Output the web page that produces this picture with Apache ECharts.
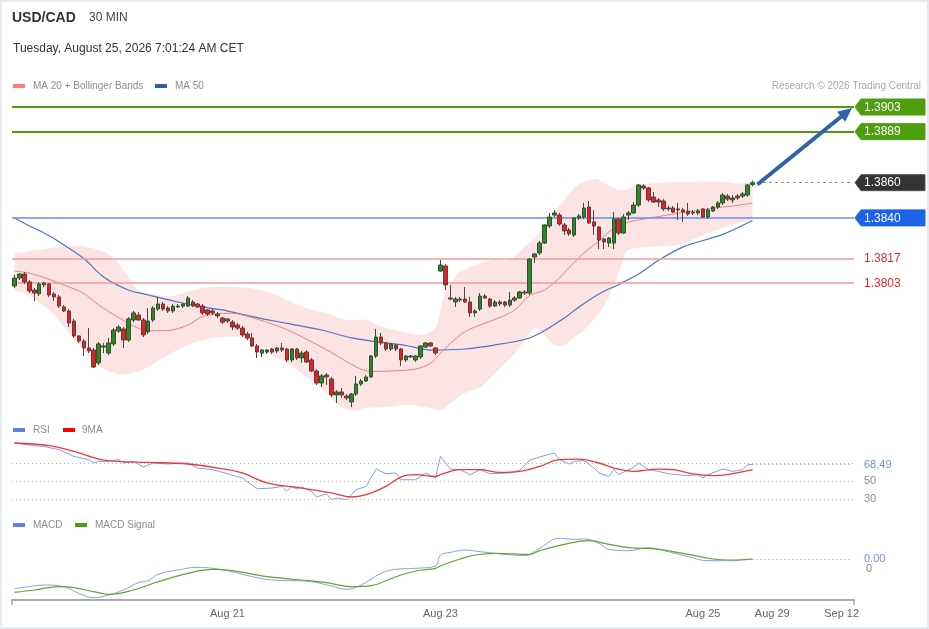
<!DOCTYPE html>
<html>
<head>
<meta charset="utf-8">
<script src="https://cdn.jsdelivr.net/npm/echarts/dist/echarts.min.js"></script>
<style>
html,body{margin:0;padding:0;background:#fff;}
#c{width:929px;height:629px;}
</style>
</head>
<body>
<div id="c"></div>
<script>
// ---------- DATA ----------
const slotCount = 170;
const tickIndex = [43, 86, 139, 153, 167];
const tickText = ['Aug 21', 'Aug 23', 'Aug 25', 'Aug 29', 'Sep 12'];

// candles: [open, close, low, high]
const candles = [
[1.38013,1.38058,1.38002,1.38076],[1.38058,1.38081,1.38047,1.38087],[1.38081,1.38036,1.38024,1.38093],[1.38036,1.37985,1.37973,1.38047],
[1.37990,1.37973,1.37928,1.38002],[1.37968,1.38024,1.37956,1.38036],[1.38030,1.38019,1.38007,1.38036],[1.38024,1.37962,1.37951,1.38030],
[1.37968,1.37951,1.37928,1.37979],[1.37951,1.37899,1.37888,1.37962],[1.37894,1.37871,1.37865,1.37905],[1.37871,1.37803,1.37780,1.37882],
[1.37814,1.37729,1.37718,1.37826],[1.37729,1.37700,1.37689,1.37735],[1.37700,1.37661,1.37615,1.37712],[1.37661,1.37644,1.37632,1.37774],
[1.37649,1.37553,1.37547,1.37661],[1.37576,1.37684,1.37564,1.37695],[1.37666,1.37672,1.37632,1.37689],[1.37632,1.37689,1.37621,1.37718],
[1.37684,1.37763,1.37672,1.37774],[1.37757,1.37780,1.37746,1.37791],[1.37769,1.37706,1.37661,1.37780],[1.37706,1.37826,1.37695,1.37837],
[1.37820,1.37860,1.37808,1.37871],[1.37848,1.37820,1.37814,1.37865],[1.37820,1.37735,1.37723,1.37831],[1.37752,1.37814,1.37740,1.37888],
[1.37820,1.37888,1.37808,1.37899],[1.37882,1.37911,1.37871,1.37951],[1.37911,1.37882,1.37871,1.37922],[1.37888,1.37871,1.37860,1.37899],
[1.37871,1.37899,1.37860,1.37911],[1.37894,1.37899,1.37888,1.37911],[1.37899,1.37911,1.37888,1.37916],[1.37899,1.37945,1.37894,1.37956],
[1.37922,1.37899,1.37894,1.37933],[1.37911,1.37894,1.37888,1.37916],[1.37899,1.37860,1.37848,1.37911],[1.37877,1.37854,1.37843,1.37882],
[1.37871,1.37860,1.37848,1.37882],[1.37854,1.37843,1.37831,1.37865],[1.37831,1.37808,1.37797,1.37837],[1.37826,1.37814,1.37803,1.37831],
[1.37808,1.37780,1.37763,1.37820],[1.37791,1.37774,1.37763,1.37803],[1.37774,1.37735,1.37723,1.37786],[1.37740,1.37718,1.37706,1.37752],
[1.37718,1.37672,1.37666,1.37746],[1.37672,1.37638,1.37604,1.37684],[1.37632,1.37649,1.37610,1.37655],[1.37638,1.37649,1.37627,1.37655],
[1.37655,1.37638,1.37627,1.37661],[1.37644,1.37661,1.37632,1.37666],[1.37661,1.37649,1.37638,1.37689],[1.37655,1.37593,1.37581,1.37661],
[1.37593,1.37655,1.37581,1.37661],[1.37655,1.37604,1.37593,1.37661],[1.37604,1.37632,1.37576,1.37644],[1.37638,1.37581,1.37576,1.37649],
[1.37593,1.37530,1.37524,1.37604],[1.37530,1.37462,1.37451,1.37541],[1.37462,1.37502,1.37439,1.37513],[1.37507,1.37496,1.37451,1.37519],
[1.37485,1.37394,1.37382,1.37496],[1.37394,1.37411,1.37348,1.37422],[1.37411,1.37394,1.37377,1.37433],[1.37388,1.37377,1.37365,1.37399],
[1.37354,1.37399,1.37325,1.37405],[1.37399,1.37456,1.37388,1.37502],[1.37456,1.37473,1.37445,1.37485],[1.37473,1.37496,1.37468,1.37507],
[1.37496,1.37615,1.37490,1.37621],[1.37615,1.37723,1.37604,1.37769],[1.37723,1.37689,1.37678,1.37746],[1.37689,1.37655,1.37644,1.37695],
[1.37655,1.37684,1.37644,1.37689],[1.37678,1.37655,1.37644,1.37684],[1.37655,1.37593,1.37558,1.37661],[1.37593,1.37615,1.37581,1.37621],
[1.37610,1.37615,1.37604,1.37621],[1.37593,1.37615,1.37581,1.37621],[1.37610,1.37672,1.37598,1.37678],[1.37666,1.37689,1.37661,1.37695],
[1.37689,1.37672,1.37666,1.37695],[1.37661,1.37632,1.37621,1.37666],[1.38098,1.38132,1.38093,1.38161],[1.38127,1.38019,1.37990,1.38138],
[1.37945,1.37939,1.37933,1.38019],[1.37922,1.37939,1.37894,1.37951],[1.37939,1.37933,1.37922,1.37951],[1.37939,1.37922,1.37916,1.38007],
[1.37922,1.37860,1.37837,1.37951],[1.37860,1.37871,1.37837,1.37882],[1.37882,1.37956,1.37871,1.37973],[1.37956,1.37945,1.37939,1.37968],
[1.37939,1.37899,1.37888,1.37945],[1.37899,1.37922,1.37894,1.37933],[1.37911,1.37922,1.37899,1.37933],[1.37922,1.37905,1.37894,1.37928],
[1.37905,1.37933,1.37894,1.37979],[1.37933,1.37945,1.37922,1.37956],[1.37945,1.37979,1.37939,1.37985],[1.37979,1.37973,1.37962,1.37990],
[1.37973,1.38166,1.37962,1.38172],[1.38178,1.38195,1.38144,1.38201],[1.38201,1.38257,1.38189,1.38269],[1.38257,1.38360,1.38252,1.38365],
[1.38354,1.38405,1.38343,1.38428],[1.38416,1.38428,1.38405,1.38445],[1.38416,1.38365,1.38354,1.38428],[1.38360,1.38326,1.38303,1.38371],
[1.38331,1.38309,1.38297,1.38343],[1.38303,1.38399,1.38291,1.38405],[1.38399,1.38411,1.38388,1.38422],[1.38405,1.38456,1.38394,1.38485],
[1.38462,1.38371,1.38365,1.38496],[1.38377,1.38354,1.38303,1.38445],[1.38348,1.38274,1.38223,1.38354],[1.38280,1.38263,1.38223,1.38286],
[1.38257,1.38286,1.38235,1.38291],[1.38257,1.38394,1.38223,1.38433],[1.38394,1.38314,1.38303,1.38399],[1.38314,1.38405,1.38309,1.38422],
[1.38416,1.38428,1.38388,1.38439],[1.38428,1.38473,1.38422,1.38490],[1.38473,1.38587,1.38462,1.38593],[1.38581,1.38570,1.38558,1.38593],
[1.38570,1.38502,1.38490,1.38576],[1.38519,1.38490,1.38485,1.38547],[1.38502,1.38490,1.38462,1.38513],[1.38496,1.38451,1.38439,1.38507],
[1.38456,1.38451,1.38439,1.38468],[1.38456,1.38433,1.38428,1.38468],[1.38451,1.38445,1.38388,1.38485],[1.38445,1.38433,1.38377,1.38456],
[1.38439,1.38422,1.38411,1.38485],[1.38428,1.38433,1.38416,1.38445],[1.38428,1.38439,1.38416,1.38451],[1.38451,1.38405,1.38399,1.38456],
[1.38405,1.38445,1.38394,1.38456],[1.38439,1.38462,1.38433,1.38468],[1.38462,1.38485,1.38451,1.38496],[1.38485,1.38530,1.38473,1.38541],
[1.38524,1.38507,1.38496,1.38536],[1.38502,1.38513,1.38485,1.38530],[1.38524,1.38513,1.38502,1.38536],[1.38524,1.38536,1.38513,1.38547],
[1.38530,1.38587,1.38519,1.38593],[1.38590,1.38600,1.38580,1.38612]
];

// [candle index, value]
const ma20 = [[0,1.38098],[3,1.38086],[7,1.38051],[10,1.38019],[14,1.37970],[17,1.37905],[21,1.37834],[24,1.37786],[27,1.37759],[31,1.37760],[35,1.37791],[38,1.37840],[41,1.37854],[44,1.37858],[48,1.37833],[54,1.37777],[58,1.37725],[64,1.37635],[69,1.37553],[72,1.37527],[76,1.37530],[81,1.37541],[84,1.37574],[86,1.37631],[88,1.37687],[91,1.37754],[94,1.37791],[98,1.37834],[101,1.37877],[104,1.37959],[107,1.37990],[110,1.38058],[112,1.38118],[115,1.38201],[118,1.38269],[121,1.38341],[124,1.38377],[128,1.38398],[134,1.38426],[141,1.38455],[145,1.38468],[149,1.38483]];
const ma50 = [[0,1.38399],[3,1.38354],[6,1.38314],[9,1.38264],[14,1.38169],[18,1.38064],[23,1.37990],[27,1.37962],[33,1.37922],[38,1.37894],[42,1.37877],[48,1.37839],[55,1.37801],[62,1.37763],[68,1.37718],[73,1.37697],[79,1.37675],[84,1.37649],[91,1.37655],[97,1.37678],[103,1.37709],[106,1.37743],[111,1.37831],[114,1.37894],[118,1.37968],[122,1.38022],[126,1.38081],[130,1.38158],[135,1.38235],[143,1.38306],[149,1.38385]];
const bbUpper = [[0,1.38200],[5,1.38218],[9,1.38235],[13,1.38240],[17,1.38218],[20,1.38172],[23,1.38064],[25,1.37990],[29,1.37962],[32,1.37956],[36,1.37990],[40,1.38007],[44,1.38007],[48,1.37999],[52,1.37970],[55,1.37933],[59,1.37886],[63,1.37858],[67,1.37820],[71,1.37820],[74,1.37782],[78,1.37754],[82,1.37735],[85,1.37774],[86,1.37877],[87,1.37979],[89,1.38064],[90,1.38093],[94,1.38142],[97,1.38161],[100,1.38161],[103,1.38235],[106,1.38314],[109,1.38428],[111,1.38502],[113,1.38570],[115,1.38606],[117,1.38620],[118,1.38616],[121,1.38568],[123,1.38558],[126,1.38587],[131,1.38600],[138,1.38606],[143,1.38606],[146,1.38596],[149,1.38606]];
const bbLower = [[0,1.37990],[3,1.37956],[7,1.37877],[10,1.37780],[14,1.37649],[17,1.37558],[21,1.37513],[24,1.37519],[27,1.37553],[31,1.37621],[35,1.37678],[38,1.37706],[42,1.37723],[46,1.37718],[50,1.37649],[55,1.37576],[59,1.37496],[63,1.37405],[66,1.37325],[69,1.37308],[71,1.37320],[75,1.37325],[79,1.37337],[83,1.37325],[86,1.37308],[88,1.37348],[91,1.37405],[94,1.37439],[97,1.37519],[101,1.37632],[103,1.37706],[105,1.37774],[107,1.37735],[109,1.37678],[111,1.37678],[113,1.37723],[115,1.37763],[118,1.37860],[120,1.37951],[122,1.38087],[123,1.38178],[124,1.38218],[128,1.38236],[134,1.38246],[139,1.38303],[143,1.38343],[149,1.38394]];

const rsi = [[0,92.2],[4,89.2],[6,88.4],[9,84.8],[12,77.3],[15,73.7],[16,70],[17,71.8],[19,71.8],[21,73.7],[22,70],[24,71.8],[26,65.6],[28,70],[31,68.9],[35,70],[37,64.4],[40,62.6],[43,58.1],[46,53.3],[49,41.4],[52,42.2],[54,44],[55,38.4],[56,44],[57,41.1],[58,43.3],[60,38.4],[61,32.2],[63,35.9],[64,29.2],[65,31.1],[67,29.2],[69,40.3],[71,44],[73,63.3],[75,58.1],[77,58.9],[78,51.4],[81,51.4],[83,58.9],[85,53.3],[86,77.3],[88,63.3],[90,62.6],[92,57],[94,62.6],[96,58.1],[100,58.9],[102,61.8],[104,72.9],[106,76.7],[109,81.1],[110,73.7],[112,68.9],[113,71.8],[115,72.9],[117,64.4],[118,58.9],[120,55.1],[121,62.6],[122,57],[124,62.6],[125,65.1],[126,70],[128,62.6],[130,60.7],[132,58.1],[136,55.9],[138,57],[139,53.3],[140,57],[143,63.3],[145,60.7],[147,62.6],[148,68.1],[149,68.49]];
const rsiMa9 = [[0,92.2],[7,89.2],[12,82.9],[17,74.4],[21,71.8],[27,70.7],[35,68.9],[41,64.4],[46,58.9],[51,47.8],[58,42.2],[64,36.7],[68,32.2],[71,34.8],[75,44],[78,54.4],[81,57],[85,55.1],[86,57],[90,62.6],[94,62.6],[98,59.6],[102,60.7],[106,66.2],[110,73.7],[114,74.4],[118,70],[121,64.4],[125,60.7],[130,63.3],[133,62.6],[137,57.8],[141,55.9],[145,58.1],[149,62.6]];
const rsiLevels = [70, 50, 30];
const rsiLabels = ['50', '30'];

const macd = [[0,-0.000197],[2,-0.000183],[6,-0.00016],[10,-0.000177],[13,-0.000243],[16,-0.000287],[19,-0.00026],[22,-0.00021],[25,-0.000137],[27,-0.000117],[29,-0.000053],[33,-0.00001],[37,0.000017],[40,0.000007],[44,-0.000027],[48,-0.000077],[52,-0.00011],[56,-0.000117],[60,-0.000127],[64,-0.00017],[67,-0.000203],[70,-0.00016],[74,-0.000043],[77,-0.000003],[81,0.000007],[85,0.00003],[86,0.00014],[88,0.000165],[91,0.00019],[94,0.000173],[99,0.000147],[103,0.000133],[106,0.000207],[110,0.000307],[113,0.000297],[115,0.0003],[118,0.000257],[120,0.000197],[124,0.000183],[128,0.000213],[132,0.000173],[136,0.000123],[140,0.000083],[144,0.000083],[149,0.0001]];
const macdSignal = [[0,-0.000233],[4,-0.00021],[9,-0.000177],[12,-0.000187],[16,-0.000227],[19,-0.000253],[24,-0.00021],[29,-0.000127],[35,-0.000043],[40,-0.000003],[44,-0.000017],[51,-0.000077],[58,-0.00011],[63,-0.000137],[68,-0.000177],[72,-0.000167],[77,-0.000077],[81,-0.00002],[85,0.000007],[86,0.00003],[90,0.0001],[93,0.00014],[97,0.000157],[104,0.000147],[106,0.000183],[111,0.000247],[116,0.000283],[120,0.000247],[124,0.000213],[130,0.000197],[136,0.000147],[141,0.0001],[145,0.00009],[149,0.0001]];

const levelValues = [1.3903, 1.3889, 1.3840, 1.3817, 1.3803];
const levelKinds  = ['target', 'target', 'pivot', 'support', 'support'];
const lastPrice = 1.3860;
const arrowFrom = [150, 1.3859];
const arrowTo = [168, 1.3900];

// ---------- CHART ----------
const FONT = '"Liberation Sans", Arial, Helvetica, sans-serif';
const categories = Array.from({length: slotCount}, (_, i) => String(i));
const labelFor = i => { const k = tickIndex.indexOf(i); return k >= 0 ? tickText[k] : ''; };
const lastIdx = candles.length - 1;

const levelStyle = {
  target:  {color: '#4f9a0a', width: 2},
  pivot:   {color: '#6690e4', width: 1.5},
  support: {color: '#f59a9a', width: 1.5}
};

// Catmull-Rom sampling of pixel points (rendering smoothing only)
function spline(pts, steps) {
  const out = [];
  for (let i = 0; i < pts.length - 1; i++) {
    const p0 = pts[Math.max(i - 1, 0)], p1 = pts[i], p2 = pts[i + 1], p3 = pts[Math.min(i + 2, pts.length - 1)];
    for (let s = 0; s < steps; s++) {
      const t = s / steps, t2 = t * t, t3 = t2 * t;
      const f = (a, b, c, d) => 0.5 * ((2 * b) + (-a + c) * t + (2 * a - 5 * b + 4 * c - d) * t2 + (-a + 3 * b - 3 * c + d) * t3);
      out.push([f(p0[0], p1[0], p2[0], p3[0]), f(p0[1], p1[1], p2[1], p3[1])]);
    }
  }
  out.push(pts[pts.length - 1]);
  return out;
}

const chart = echarts.init(document.getElementById('c'));
const gridL = 12, gridW = 842;

const option = {
  animation: false,
  backgroundColor: '#fff',
  textStyle: {fontFamily: FONT},
  grid: [
    {left: gridL, width: gridW, top: 95, height: 320},
    {left: gridL, width: gridW, top: 436, height: 72},
    {left: gridL, width: gridW, top: 535, height: 65}
  ],
  xAxis: [
    {type: 'category', gridIndex: 0, data: categories, show: false},
    {type: 'category', gridIndex: 1, data: categories, show: false},
    {type: 'category', gridIndex: 2, data: categories,
      axisLine: {show: true, onZero: false, lineStyle: {color: '#aaaaaa', width: 2}},
      axisTick: {show: false},
      splitLine: {show: false},
      axisLabel: {interval: 0, margin: 8, color: '#666', fontSize: 11, fontFamily: FONT,
        formatter: (v, i) => labelFor(i)}
    }
  ],
  yAxis: [
    {type: 'value', gridIndex: 0, min: 1.372801, max: 1.390982, show: false},
    {type: 'value', gridIndex: 1, min: 20, max: 100, show: false},
    {type: 'value', gridIndex: 2, min: -0.00031, max: 0.00034, show: false}
  ],
  series: [
    {type: 'custom', name: 'Bollinger Bands', xAxisIndex: 0, yAxisIndex: 0, silent: true, z: 1,
      data: [[bbUpper[0][0], bbUpper[0][1]]],
      renderItem: (params, api) => {
        const up = spline(bbUpper.map(p => api.coord(p)), 8);
        const lo = spline(bbLower.map(p => api.coord(p)), 8).reverse();
        return {type: 'polygon', shape: {points: up.concat(lo)}, style: {fill: '#fde4e4'}};
      }
    },
    {type: 'line', name: 'MA 50', xAxisIndex: 0, yAxisIndex: 0, data: ma50, smooth: 0.3,
      symbol: 'none', lineStyle: {width: 1.2, color: '#4b74bd'}, z: 4,
      markLine: {
        silent: true, precision: 6, symbol: ['none', 'none'], label: {show: false}, animation: false,
        data: levelValues.map((v, i) => ({yAxis: v, lineStyle: Object.assign({type: 'solid'}, levelStyle[levelKinds[i]])}))
      }
    },
    {type: 'line', name: 'MA 20 + Bollinger Bands', xAxisIndex: 0, yAxisIndex: 0, data: ma20, smooth: 0.3,
      symbol: 'none', lineStyle: {width: 1, color: '#f37f7f'}, z: 4},
    {type: 'candlestick', name: 'USD/CAD', xAxisIndex: 0, yAxisIndex: 0, data: candles, barWidth: 4, z: 6,
      itemStyle: {color: '#2d862a', color0: '#ec1c1f', borderColor: '#33502e', borderColor0: '#574242', borderColorDoji: '#555', borderWidth: 1},
      markLine: {
        silent: true, precision: 6, symbol: ['none', 'none'], label: {show: false}, animation: false,
        data: [
          [{coord: [lastIdx + 1, lastPrice], lineStyle: {type: [2, 4], color: '#666', width: 1}}, {coord: [slotCount - 1, lastPrice]}],
          [{coord: arrowFrom, symbol: 'none', lineStyle: {type: 'solid', color: '#2f62a6', width: 4}},
           {coord: arrowTo, symbol: 'triangle', symbolSize: [13, 14]}]
        ]
      }
    },
    {type: 'line', name: 'RSI', xAxisIndex: 1, yAxisIndex: 1, data: rsi, symbol: 'none',
      lineStyle: {width: 1, color: '#7f9ee9'}, z: 4,
      markLine: {silent: true, precision: 4, symbol: ['none', 'none'], label: {show: false},
        data: rsiLevels.map(v => ({yAxis: v, lineStyle: {type: [1, 3], color: '#b5b5b5', width: 1}}))
          .concat([[{coord: [lastIdx, rsi[rsi.length - 1][1]], lineStyle: {type: [1, 3], color: '#7f9ee9', width: 1}},
                    {coord: [slotCount - 1, rsi[rsi.length - 1][1]]}]])}
    },
    {type: 'line', name: '9MA', xAxisIndex: 1, yAxisIndex: 1, data: rsiMa9, smooth: 0.4, symbol: 'none',
      lineStyle: {width: 1.3, color: '#f0363a'}, z: 5},
    {type: 'line', name: 'MACD', xAxisIndex: 2, yAxisIndex: 2, data: macd, smooth: 0.4, symbol: 'none',
      lineStyle: {width: 1, color: '#86a2ea'}, z: 4,
      markLine: {silent: true, precision: 8, symbol: ['none', 'none'], label: {show: false},
        data: [[{coord: [lastIdx, macd[macd.length - 1][1]], lineStyle: {type: [1, 3], color: '#7f9ee9', width: 1}},
                {coord: [slotCount - 1, macd[macd.length - 1][1]]}]]}
    },
    {type: 'line', name: 'MACD Signal', xAxisIndex: 2, yAxisIndex: 2, data: macdSignal, smooth: 0.4, symbol: 'none',
      lineStyle: {width: 1.2, color: '#5fa72d'}, z: 5}
  ]
};
chart.setOption(option);

// ---------- overlay texts / labels ----------
const py = (ax, v) => chart.convertToPixel({yAxisIndex: ax}, v);
const txt = (x, y, text, size, fill, extra) => ({
  type: 'text', x: x, y: y, silent: true,
  style: Object.assign({text: text, fontSize: size, fontFamily: FONT, fill: fill, verticalAlign: 'middle', align: 'left'}, extra || {})
});
const swatch = (x, y, color) => ({type: 'rect', silent: true, shape: {x: x, y: y - 2, width: 12, height: 4}, style: {fill: color}});
const tag = (y, fill, text, stroke) => ([
  {type: 'polygon', silent: true, shape: {points: [[855, y], [861, y - 8], [925, y - 8], [925, y + 8], [861, y + 8]]},
    style: {fill: fill, stroke: stroke || fill, lineWidth: 1}},
  txt(864, y + 0.5, text, 12, '#fff')
]);

const axisY = 600;
let g = [
  {type: 'rect', silent: true, shape: {x: 1, y: 1, width: 927, height: 627}, style: {fill: 'none', stroke: '#e6ebee', lineWidth: 2}},
  txt(12, 18, 'USD/CAD', 14, '#333', {fontWeight: 'bold'}),
  txt(89, 18, '30 MIN', 12, '#444'),
  txt(13, 48.5, 'Tuesday, August 25, 2026 7:01:24 AM CET', 12, '#333'),
  swatch(13, 86, '#ff7d7d'), txt(33, 86, 'MA 20 + Bollinger Bands', 10, '#8c8c8c'),
  swatch(155, 86, '#2f5ea8'), txt(175, 86, 'MA 50', 10, '#8c8c8c'),
  txt(921, 86, 'Research \u00a9 2026 Trading Central', 10, '#a8a8a8', {align: 'right'}),
  swatch(13, 430, '#5b7fe3'), txt(33, 430, 'RSI', 10, '#8c8c8c'),
  swatch(63, 430, '#ff0000'), txt(82, 430, '9MA', 10, '#8c8c8c'),
  swatch(13, 525, '#5b7fe3'), txt(33, 525, 'MACD', 10, '#8c8c8c'),
  swatch(75, 525, '#44a012'), txt(95, 525, 'MACD Signal', 10, '#8c8c8c'),
  {type: 'line', silent: true, shape: {x1: gridL, y1: axisY, x2: gridL, y2: axisY + 5}, style: {stroke: '#aaa', lineWidth: 1.5}},
  {type: 'line', silent: true, shape: {x1: gridL + gridW, y1: axisY, x2: gridL + gridW, y2: axisY + 5}, style: {stroke: '#aaa', lineWidth: 1.5}}
];
const tagColors = {target: '#4f9e0f', pivot: '#1c62ea'};
levelValues.forEach((v, i) => {
  const y = py(0, v);
  const k = levelKinds[i];
  if (k === 'support') g.push(txt(864, y + 0.5, v.toFixed(4), 12, '#e8262a'));
  else g = g.concat(tag(y, tagColors[k], v.toFixed(4)));
});
g = g.concat(tag(py(0, lastPrice), '#333333', lastPrice.toFixed(4), '#555'));
const rsiLast = rsi[rsi.length - 1][1];
g.push(txt(864, py(1, rsiLast) + 1, rsiLast.toFixed(2), 11, '#6f8fe3'));
rsiLabels.forEach(s => g.push(txt(864, py(1, +s), s, 11, '#8a8a8a')));
const macdLast = macd[macd.length - 1][1];
g.push(txt(864, py(2, macdLast), macdLast.toFixed(2), 11, '#6f8fe3'));
g.push(txt(866, py(2, 0), '0', 11, '#8a8a8a'));
chart.setOption({graphic: g});
</script>
</body>
</html>
